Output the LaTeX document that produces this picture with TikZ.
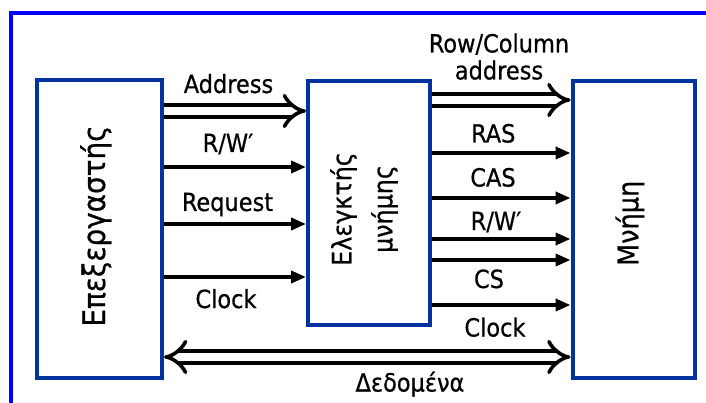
\documentclass[tikz,border=0pt]{standalone}
\usepackage{fontspec}
\setmainfont{DejaVu Sans Condensed}[FakeBold=0.6]
\usetikzlibrary{arrows.meta}
\definecolor{boxblue}{RGB}{0,51,160}
\definecolor{frameblue}{RGB}{0,0,255}
\begin{document}
\begin{tikzpicture}[x=1pt,y=-1pt,
  unitbox/.style={draw=boxblue, line width=4pt, fill=white, inner sep=0pt},
  lbl/.style={anchor=base, inner sep=0pt, font=\fontsize{25}{30}\selectfont},
  sig/.style={line width=3.6pt, -{Triangle[length=15pt,width=12pt]}},
  bus/.style={line width=3.6pt, double, double distance=8pt, -Implies},
  busboth/.style={line width=3.6pt, double, double distance=8pt, Implies-Implies}
]
\useasboundingbox (0,0) rectangle (706,403);
\fill[white] (0,0) rectangle (706,403);
\draw[frameblue, line width=4pt] (11,403) -- (11,13) -- (706,13);

% boxes
\node[unitbox, minimum width=125pt, minimum height=297.5pt] (P) at (99.5,229.25) {};
\node[unitbox, minimum width=122pt, minimum height=244pt] (C) at (369,203) {};
\node[unitbox, minimum width=122.5pt, minimum height=297pt] (M) at (633.75,229.5) {};

% box texts
\node[rotate=90, anchor=base, inner sep=0pt, font=\fontsize{31}{36}\selectfont] (Pt) at (105,226) {Επεξεργαστής};
\node[rotate=90, align=center, inner sep=0pt, font=\fontsize{26.5}{41}\selectfont] (Ct) at (364,209) {Ελεγκτής\\μνήμης};
\node[rotate=90, anchor=base, inner sep=0pt, font=\fontsize{28.5}{32}\selectfont] (Mt) at (638.3,223.3) {Μνήμη};

% processor -> controller
\draw[bus] (P.east |- 0,111) -- (C.west |- 0,111);
\draw[sig] (P.east |- 0,167) -- (C.west |- 0,167);
\draw[sig] (P.east |- 0,224) -- (C.west |- 0,224);
\draw[sig] (P.east |- 0,277) -- (C.west |- 0,277);
\node[lbl] (lAddr) at (228.5,93) {Address};
\node[lbl] (lRW1) at (228,152) {R/W′};
\node[lbl] (lReq) at (227.5,211) {Request};
\node[lbl] (lClk1) at (226,308) {Clock};

% controller -> memory
\draw[bus] (C.east |- 0,100) -- (M.west |- 0,100);
\draw[sig] (C.east |- 0,153) -- (M.west |- 0,153);
\draw[sig] (C.east |- 0,198) -- (M.west |- 0,198);
\draw[sig] (C.east |- 0,239) -- (M.west |- 0,239);
\draw[sig] (C.east |- 0,260) -- (M.west |- 0,260);
\draw[sig] (C.east |- 0,305) -- (M.west |- 0,305);
\node[anchor=south, align=center, inner sep=0pt, font=\fontsize{25}{27}\selectfont] (lRC) at (499,80) {Row/Column\\address};
\node[lbl] (lRAS) at (493.3,142.5) {RAS};
\node[lbl] (lCAS) at (493,186.5) {CAS};
\node[lbl] (lRW2) at (496,230) {R/W′};
\node[lbl] (lCS) at (489,288) {CS};
\node[lbl] (lClk2) at (495,336.5) {Clock};

% data bus
\draw[busboth] (P.east |- 0,357) -- (M.west |- 0,357);
\node[lbl] (lData) at (410,391.5) {Δεδομένα};
\end{tikzpicture}
\end{document}
